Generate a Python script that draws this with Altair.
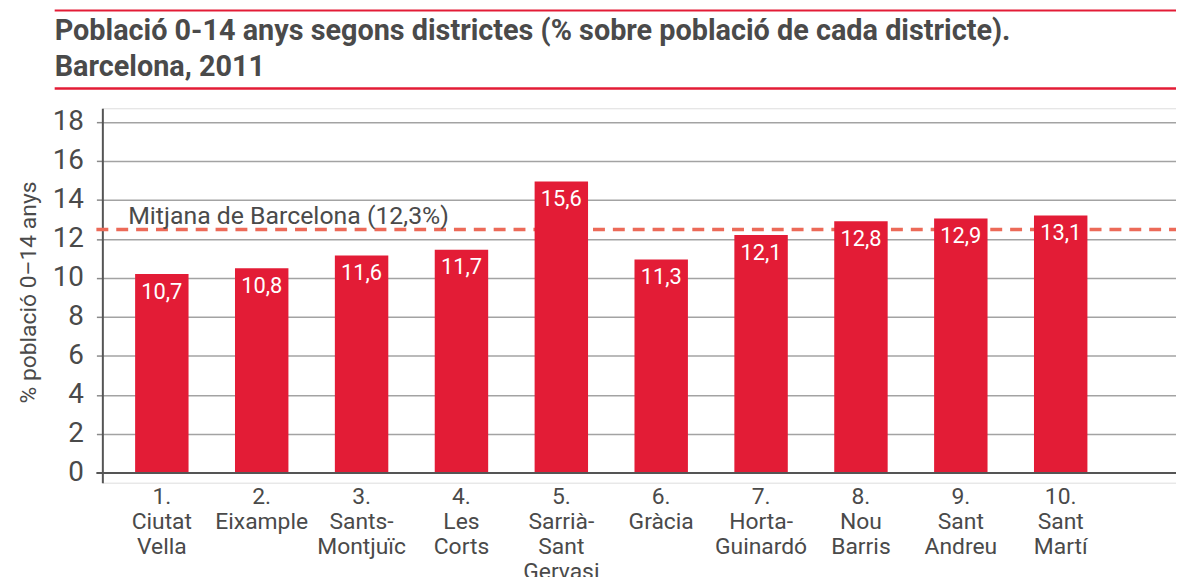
import altair as alt
import pandas as pd

# ---- data ----
districts = ["1.|Ciutat|Vella", "2.|Eixample", "3.|Sants-|Montjuïc", "4.|Les|Corts",
             "5.|Sarrià-|Sant|Gervasi", "6.|Gràcia", "7.|Horta-|Guinardó",
             "8.|Nou|Barris", "9.|Sant|Andreu", "10.|Sant|Martí"]
bar_heights = [10.2, 10.5, 11.15, 11.45, 14.95, 10.95, 12.2, 12.9, 13.05, 13.2]
bar_labels = ["10,7", "10,8", "11,6", "11,7", "15,6", "11,3", "12,1", "12,8", "12,9", "13,1"]
mean_value = 12.48
mean_label = "Mitjana de Barcelona (12,3%)"
title_lines = ["Població 0-14 anys segons districtes (% sobre població de cada districte).",
               "Barcelona, 2011"]
y_ticks = [0, 2, 4, 6, 8, 10, 12, 14, 16, 18]
y_title = "% població 0–14 anys"

RED = "#e31c36"
DASH = "#ec6a58"
GREY = "#4a4a4a"
FONT = "Roboto"
W, H = 1081, 377

df = pd.DataFrame({"district": districts, "value": bar_heights, "label": bar_labels})
one = pd.DataFrame({"k": [0]})

xenc = alt.X("district:N", sort=districts,
             scale=alt.Scale(paddingInner=0.465, paddingOuter=0.6075, align=0.27),
             axis=alt.Axis(title="", labelAngle=0, labelExpr="split(datum.label, '|')",
                           labelFont=FONT, labelFontSize=23, labelLineHeight=25,
                           labelColor=GREY, labelBaseline="top", labelPadding=3,
                           ticks=False, tickSize=0, domain=False, labelLimit=400))
yscale = alt.Scale(domain=[-0.5, 18.7], nice=False, zero=False)
yenc = alt.Y("value:Q", scale=yscale,
             axis=alt.Axis(values=y_ticks, title=y_title, grid=True, gridColor="#a3a3a3",
                           gridWidth=1.5, domainColor="#555555", domainWidth=2,
                           tickColor="#8a8a8a", tickSize=6, tickWidth=1.5,
                           labelFont=FONT, labelFontSize=28, labelColor=GREY, labelPadding=13,
                           titleFont=FONT, titleFontSize=23, titleFontWeight="normal",
                           titleColor=GREY, titleAngle=270, titleX=-67, titleY=185,
                           titleAlign="center", titleBaseline="alphabetic"))

mean_rule = alt.Chart(one).mark_rule(color=DASH, strokeWidth=3.5, strokeDash=[12, 8]).encode(
    y=alt.datum(mean_value), x=alt.value(-6), x2=alt.value(W))
mean_text = alt.Chart(one).mark_text(align="left", baseline="alphabetic", dy=-6,
                                     font=FONT, fontSize=25, color=GREY).encode(
    y=alt.datum(mean_value), x=alt.value(26), text=alt.value(mean_label))
bars = alt.Chart(df).mark_bar(color=RED).encode(x=xenc, y=yenc, y2=alt.datum(0))
labels = alt.Chart(df).mark_text(color="white", baseline="alphabetic", dy=25,
                                 font=FONT, fontSize=22).encode(
    x=alt.X("district:N", sort=districts), y=alt.Y("value:Q"), text="label:N")
baseline = alt.Chart(one).mark_rule(color="#555555", strokeWidth=2).encode(
    y=alt.datum(0), x=alt.value(-6), x2=alt.value(W))
red_top = alt.Chart(one).mark_rule(color=RED, strokeWidth=2).encode(
    y=alt.value(-98.5), x=alt.value(-48), x2=alt.value(W))
red_mid = alt.Chart(one).mark_rule(color=RED, strokeWidth=2.5).encode(
    y=alt.value(-20), x=alt.value(-48), x2=alt.value(W))
title = alt.Chart(one).mark_text(align="left", baseline="alphabetic", lineHeight=37,
                                 font=FONT, fontSize=29, fontWeight="bold", color=GREY).encode(
    x=alt.value(-48), y=alt.value(-69), text=alt.value(title_lines))

chart = alt.layer(mean_rule, bars, labels, baseline, mean_text, red_top, red_mid, title).properties(
    width=W, height=H,
    autosize=alt.AutoSizeParams(type="none"),
    padding={"left": 95, "top": 99, "right": 0, "bottom": 93},
).configure_view(strokeWidth=0).configure(background="white")

chart.save("out.html", embed_options={"renderer": "svg", "actions": False})
